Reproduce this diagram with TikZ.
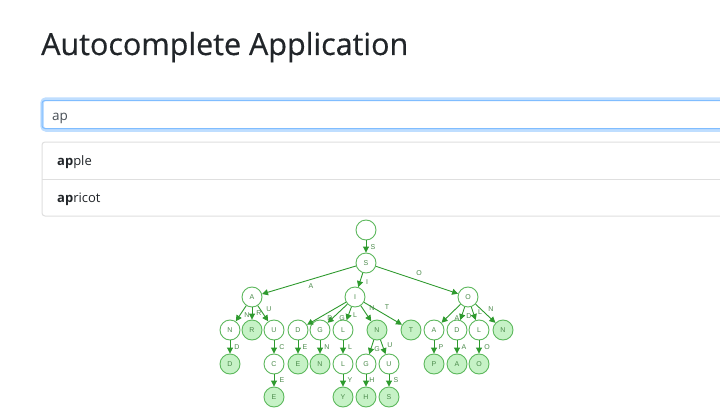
\documentclass[tikz,border=0pt]{standalone}
\usepackage{fontspec}
\setmainfont{Open Sans}
\newfontfamily\titlefont[FakeBold=0.5]{Open Sans}
\newfontfamily\labfont{Liberation Sans}
\usetikzlibrary{arrows.meta}
\definecolor{titlec}{HTML}{212529}
\definecolor{inputc}{HTML}{495057}
\definecolor{glowc}{HTML}{BFDEFF}
\definecolor{focusb}{HTML}{80BDFF}
\definecolor{lgb}{HTML}{DFDFDF}
\definecolor{nodeb}{HTML}{5CB85C}
\definecolor{nodef}{HTML}{C6F2C6}
\definecolor{edgec}{HTML}{2E9A2E}
\definecolor{labc}{HTML}{4A8A4A}
\begin{document}
\begin{tikzpicture}[x=1pt,y=-1pt,
  tn/.style={circle,draw=nodeb,line width=0.9pt,minimum size=20pt,inner sep=0pt,
    font=\labfont\fontsize{7}{7}\selectfont,text=labc},
  wn/.style={tn,fill=white},
  fn/.style={tn,fill=nodef},
  ed/.style={draw=edgec,line width=0.9pt,-{Triangle[length=6pt,width=6pt]}},
  el/.style={font=\labfont\fontsize{7}{7}\selectfont,text=labc,inner sep=0pt}]
\clip (0,0) rectangle (720,420);
\fill[white] (0,0) rectangle (720,420);
% title
\node[anchor=base west,inner sep=0pt,font=\titlefont\fontsize{30.5}{30.5}\selectfont,text=titlec] (title) at (41,55) {Autocomplete Application};
% input
\draw[glowc,line width=3.5pt,rounded corners=4pt] (42,99) rectangle (740,130);
\draw[focusb,line width=1pt,rounded corners=3pt] (42,100.5) rectangle (740,128.5);
\node[anchor=base west,inner sep=0pt,font=\fontsize{13.5}{13.5}\selectfont,text=inputc] (inp) at (52,120) {ap};
% list group
\draw[lgb,line width=1pt,rounded corners=3pt] (42,142) rectangle (740,216);
\draw[lgb,line width=1pt] (42,179) -- (740,179);
\node[anchor=base west,inner sep=0pt,font=\fontsize{13}{13}\selectfont,text=titlec] (it1) at (57,165) {\textbf{ap}ple};
\node[anchor=base west,inner sep=0pt,font=\fontsize{13}{13}\selectfont,text=titlec] (it2) at (57,202) {\textbf{ap}ricot};
% tree nodes
\node[wn] (root) at (366,230) {};
\node[wn] (s) at (366,263) {S};
\node[wn] (a) at (252,297) {A};
\node[wn] (i) at (355,297) {I};
\node[wn] (o) at (468,297) {O};
\node[wn] (an) at (230,330) {N};
\node[fn] (ar) at (252,330) {R};
\node[wn] (au) at (274,330) {U};
\node[wn] (id) at (298,330) {D};
\node[wn] (ig) at (320,330) {G};
\node[wn] (il) at (343,330) {L};
\node[fn] (in) at (377,330) {N};
\node[fn] (it) at (411,330) {T};
\node[wn] (oa) at (434,330) {A};
\node[wn] (od) at (457,330) {D};
\node[wn] (ol) at (479,330) {L};
\node[fn] (on) at (503,330) {N};
\node[fn] (and) at (230,364) {D};
\node[wn] (auc) at (274,364) {C};
\node[fn] (ide) at (298,364) {E};
\node[fn] (ign) at (320,364) {N};
\node[wn] (ill) at (343,364) {L};
\node[wn] (ing) at (366,364) {G};
\node[wn] (inu) at (389,364) {U};
\node[fn] (oap) at (434,364) {P};
\node[fn] (oda) at (457,364) {A};
\node[fn] (olo) at (479,364) {O};
\node[fn] (auce) at (274,397) {E};
\node[fn] (illy) at (343,397) {Y};
\node[fn] (ingh) at (366,397) {H};
\node[fn] (inus) at (389,397) {S};
% edges
\foreach \p/\c in {root/s,s/a,s/i,s/o,a/an,a/ar,a/au,i/id,i/ig,i/il,i/in,i/it,
  o/oa,o/od,o/ol,o/on,an/and,au/auc,id/ide,ig/ign,il/ill,in/ing,in/inu,
  oa/oap,od/oda,ol/olo,auc/auce,ill/illy,ing/ingh,inu/inus}
  \draw[ed] (\p) -- (\c);
% edge labels
\node[el] (l1) at (373,247) {S};
\node[el] (l2) at (311,286) {A};
\node[el] (l3) at (367,282) {I};
\node[el] (l4) at (419,273) {O};
\node[el] (l5) at (247,315) {N};
\node[el] (l6) at (259,313) {R};
\node[el] (l7) at (269,309) {U};
\node[el] (l8) at (330,318) {D};
\node[el] (l9) at (342,318) {G};
\node[el] (l10) at (355,315) {L};
\node[el] (l11) at (372,308) {N};
\node[el] (l12) at (387,307) {T};
\node[el] (l13) at (457,318) {A};
\node[el] (l14) at (469,316) {D};
\node[el] (l15) at (480,312) {L};
\node[el] (l16) at (491,309) {N};
\node[el] (l17) at (237,347) {D};
\node[el] (l18) at (282,347) {C};
\node[el] (l19) at (305,347) {E};
\node[el] (l20) at (327,347) {N};
\node[el] (l21) at (350,347) {L};
\node[el] (l22) at (377,349) {G};
\node[el] (l23) at (390,345) {U};
\node[el] (l24) at (441,347) {P};
\node[el] (l25) at (464,347) {A};
\node[el] (l26) at (487,347) {O};
\node[el] (l27) at (282,380) {E};
\node[el] (l28) at (350,380) {Y};
\node[el] (l29) at (372,380) {H};
\node[el] (l30) at (396,380) {S};
\end{tikzpicture}
\end{document}
